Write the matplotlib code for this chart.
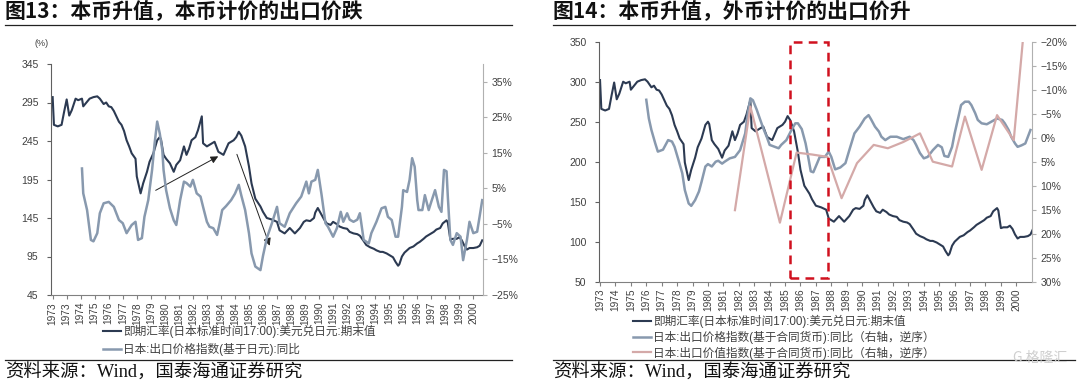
import matplotlib
matplotlib.use('Agg')

import matplotlib.pyplot as plt
from matplotlib.patches import Rectangle

plt.rcParams['font.family'] = ['Liberation Sans', 'Noto Sans CJK SC']
plt.rcParams['axes.unicode_minus'] = True

#========================================================
# data, x = months since Jan 1973
usd_month = [0, 1, 4, 7, 9, 11, 13, 15, 18, 20, 23, 24, 27, 29, 32, 35, 37, 40, 42, 44,
             46, 48, 50, 52, 54, 56, 58, 60, 62, 65, 66, 69, 71, 74, 76, 79, 82, 84, 85, 87,
             89, 92, 95, 97, 100, 103, 105, 107, 109, 112, 114, 117, 118, 121, 123, 127, 130, 134, 138, 142,
             144, 146, 148, 151, 154, 156, 159, 163, 165, 168, 172, 176, 178, 182, 186, 190, 194, 197, 199, 202,
             205, 206, 208, 211, 213, 215, 218, 220, 223, 225, 228, 231, 233, 236, 239, 241, 244, 246, 249, 252,
             254, 257, 259, 262, 265, 267, 269, 271, 272, 274, 276, 278, 280, 283, 286, 288, 291, 293, 296, 299,
             301, 304, 306, 309, 310, 312, 314, 317, 319, 321, 323, 325, 327, 330, 333, 335, 337]
usd_jpy = [302, 266, 264, 266, 283, 299, 278, 285, 300, 298, 300, 290, 296, 300, 302, 303, 300, 293, 295, 290,
           289, 284, 277, 270, 266, 258, 246, 238, 229, 222, 199, 177, 190, 205, 218, 229, 246, 250, 247, 227,
           222, 216, 205, 214, 220, 238, 227, 235, 246, 250, 259, 277, 242, 238, 240, 244, 231, 227, 242, 246,
           250, 257, 252, 238, 212, 190, 170, 160, 153, 145, 143, 140, 129, 125, 132, 125, 132, 140, 142, 141,
           145, 152, 158, 149, 143, 138, 136, 140, 137, 134, 132, 131, 127, 125, 124, 122, 115, 110, 107, 105,
           103, 101, 101, 99, 96, 94, 88, 83, 85, 95, 100, 103, 106, 108, 112, 114, 118, 121, 124, 127,
           130, 132, 138, 142, 139, 117, 118, 118, 120, 116, 109, 104, 106, 106, 107, 109, 116]

# export price index (yen based), yoy %
px_yen_month = [23, 24, 27, 30, 32, 35, 37, 40, 44, 48, 52, 55, 58, 62, 65, 67, 70, 72, 75, 78,
                80, 82, 84, 86, 87, 89, 92, 95, 97, 100, 103, 105, 108, 110, 113, 116, 118, 121, 123, 126,
                129, 131, 133, 136, 140, 143, 146, 148, 151, 154, 156, 159, 163, 165, 168, 172, 176, 178, 182, 186,
                191, 195, 199, 201, 203, 206, 208, 211, 214, 216, 220, 223, 226, 228, 231, 233, 236, 239, 241, 244,
                248, 250, 254, 258, 261, 263, 266, 269, 271, 274, 275, 278, 280, 282, 284, 286, 287, 290, 292, 295,
                297, 300, 303, 305, 307, 309, 310, 312, 314, 317, 320, 322, 325, 327, 330, 333, 335, 337]
px_yen_yoy = [10.6, 3.6, -1.1, -9.5, -9.9, -7.6, -2.0, 0.8, 1.2, -0.2, -3.9, -4.8, -7.6, -5.3, -4.4, -9.5, -9.0, -3.0, 1.7, 10.2,
              17.7, 23.8, 20.5, 15.8, 10.2, 4.5, -0.6, -4.0, -5.3, 1.7, 6.9, 6.5, 5.5, 7.4, 3.6, 2.7, -0.2, -4.4, -5.8, -6.2,
              -8.1, -4.8, -1.1, 0.0, 1.7, 3.5, 6.0, 3.0, -1.1, -7.6, -13.3, -17.0, -18.0, -14.0, -9.0, -4.8, -0.2, -4.8, -5.8, -2.0,
              0.8, 2.7, 6.9, 3.6, 6.9, 7.4, 10.2, 3.1, -4.8, -5.8, -8.6, -6.2, -1.6, -4.4, -2.0, -3.8, -4.4, -3.8, -2.0, -9.5,
              -10.5, -7.6, -4.4, -0.6, -0.2, -3.0, -3.9, -8.6, -8.6, -0.2, 4.5, 4.0, 7.4, 13.5, 11.1, 1.7, -1.1, -1.1, 3.1, -1.1,
              1.2, 4.5, -0.2, -1.6, 10.2, 9.8, 2.7, -9.5, -10.9, -7.6, -8.6, -15.2, -9.5, -4.4, -7.6, -7.2, -2.8, 1.7]

# export price index (contract currency), yoy %
px_cc_month = [36, 38, 40, 43, 45, 49, 53, 56, 58, 61, 64, 66, 69, 71, 74, 77, 79, 82, 84, 87,
               90, 92, 95, 97, 101, 105, 109, 113, 115, 117, 119, 122, 125, 127, 130, 132, 135, 139, 141, 145,
               149, 152, 154, 157, 160, 162, 164, 166, 169, 171, 175, 178, 180, 183, 187, 191, 194, 198, 202, 206,
               209, 211, 214, 217, 219, 222, 226, 231, 236, 241, 244, 246, 249, 252, 255, 259, 263, 266, 268, 271,
               274, 276, 279, 281, 284, 287, 289, 292, 294, 297, 301, 305, 309, 313, 315, 318, 320, 323, 325, 328,
               331, 333, 335]
px_cc_yoy = [-7.9, -4.0, -1.6, 1.2, 2.9, 2.5, 0.5, 0.8, 1.9, 4.6, 7.4, 10.9, 13.7, 14.2, 13.0, 11.2, 9.2, 6.0, 5.5, 6.0,
             5.0, 4.8, 5.4, 5.0, 4.3, 4.0, 2.6, -0.9, -5.1, -8.2, -7.8, -5.8, -3.5, -2.0, 0.0, 1.5, 1.8, 2.2, 1.5, 0.5,
             -1.6, -3.0, -3.0, -1.8, 1.2, 4.0, 7.0, 7.2, 5.3, 4.0, 4.0, 2.9, 4.0, 6.6, 6.2, 5.3, 2.6, -0.9, -2.3, -4.0,
             -4.7, -3.8, -2.3, -1.3, -0.2, 0.5, -0.2, -0.2, 0.3, -0.2, 0.5, 1.5, 3.2, 4.3, 4.0, 2.6, 1.5, 2.0, 3.8, 4.0,
             1.9, -0.9, -4.4, -6.8, -7.5, -7.5, -6.8, -5.1, -3.7, -3.0, -2.8, -3.4, -4.0, -3.7, -3.0, -1.6, -0.2, 1.2, 1.9, 1.6,
             1.2, -0.2, -1.6]

# export value index (contract currency), yoy %
val_cc_month = [105, 117, 140, 153, 165, 177, 188, 200, 213, 224, 236, 244, 249, 259, 274, 284, 297, 309, 322, 329]
val_cc_yoy = [15.1, -6.5, 17.7, 3.1, 3.5, 4.0, 12.6, 5.3, 1.5, 2.2, 0.9, -0.2, -0.9, 5.0, 6.0, -4.4, 6.7, -4.7, 0.5, -20.0]

left_xlabels = ['1973', '1973', '1974', '1975', '1976', '1977', '1978', '1979', '1980', '1981',
                '1982', '1983', '1984', '1984', '1985', '1986', '1987', '1988', '1989', '1990',
                '1991', '1992', '1993', '1994', '1995', '1995', '1996', '1997', '1998', '1999', '2000']
right_xlabels = [str(y) for y in range(1973, 2001)]

legend_left = ['即期汇率(日本标准时间17:00):美元兑日元:期末值',
               '日本:出口价格指数(基于日元):同比']
legend_right = ['即期汇率(日本标准时间17:00):美元兑日元:期末值',
                '日本:出口价格指数(基于合同货币):同比（右轴，逆序）',
                '日本:出口价值指数(基于合同货币):同比（右轴，逆序）']
#========================================================

DARK = '#2c3a52'
BLUE = '#8899ae'
PINK = '#d4a9a8'
TXT = '#404040'
W, H = 1080., 381.

fig = plt.figure(figsize=(10.8, 3.81), dpi=100)


def style(ax, axr):
    for a in (ax, axr):
        a.spines['top'].set_visible(False)
    ax.spines['left'].set_color('#606060')
    ax.spines['bottom'].set_color('#808080')
    axr.spines['right'].set_color('#b0b0b0')
    axr.spines['left'].set_visible(False)
    axr.spines['bottom'].set_visible(False)
    ax.spines['right'].set_visible(False)
    ax.tick_params(axis='y', direction='out', length=3, pad=6, labelsize=7.5,
                   colors='#606060', labelcolor=TXT)
    ax.tick_params(axis='x', direction='out', length=3, pad=2, labelsize=7.3,
                   colors='#808080', labelcolor=TXT, labelrotation=90)
    axr.tick_params(axis='y', direction='out', length=3, pad=3, labelsize=7.5,
                    colors='#b0b0b0', labelcolor=TXT)


def pct(v):
    return ('−%d%%' % -v) if v < 0 else '%d%%' % v


# ---------------- left chart ----------------
ax1 = fig.add_axes([51 / W, 1 - 295 / H, 432 / W, 231 / H])
ax1.plot(usd_month, usd_jpy, color=DARK, lw=1.5)
ax1.set_ylim(45, 345)
ax1.set_yticks(range(45, 346, 50))
ax1.set_xlim(-1.3, 337.6)
ax1.set_xticks([11 * k for k in range(len(left_xlabels))])
ax1.set_xticklabels(left_xlabels)

ax1r = ax1.twinx()
ax1r.plot(px_yen_month, px_yen_yoy, color=BLUE, lw=1.8)
ax1r.set_ylim(-25, 40)
rt = list(range(-25, 36, 10))
ax1r.set_yticks(rt)
ax1r.set_yticklabels([pct(v) for v in rt])
style(ax1, ax1r)

arrow = dict(arrowstyle='-|>', color='#222222', lw=0.7, mutation_scale=11)
ax1.annotate('', xy=(131.8, 226.8), xytext=(78.9, 179.2), arrowprops=arrow)
ax1.annotate('', xy=(171, 105.6), xytext=(143.8, 231.1), arrowprops=arrow)

fig.text(42 / W, 1 - 44 / H, '(%)', fontsize=6.5, color=TXT, ha='center', va='center')

h = [ax1.lines[0], ax1r.lines[0]]
fig.legend(h, legend_left, loc='upper left', bbox_to_anchor=(103 / W, 1 - 325 / H),
           frameon=False, fontsize=8.4, borderpad=0, borderaxespad=0, handlelength=1.5,
           handletextpad=0.2, labelspacing=0.4, labelcolor=TXT)

# ---------------- right chart ----------------
ax2 = fig.add_axes([599 / W, 1 - 281.7 / H, 433 / W, 240 / H])
ax2.plot(usd_month, usd_jpy, color=DARK, lw=1.5)
ax2.set_ylim(50, 350)
ax2.set_yticks(range(50, 351, 50))
ax2.set_xlim(-0.8, 336.2)
ax2.set_xticks([12 * k for k in range(len(right_xlabels))])
ax2.set_xticklabels(right_xlabels)

ax2r = ax2.twinx()
ax2r.plot(px_cc_month, px_cc_yoy, color=BLUE, lw=1.8)
ax2r.plot(val_cc_month, val_cc_yoy, color=PINK, lw=1.6)
ax2r.set_ylim(30, -20)
rt2 = list(range(-20, 31, 5))
ax2r.set_yticks(rt2)
ax2r.set_yticklabels([pct(v) for v in rt2])
style(ax2, ax2r)

ax2r.add_patch(Rectangle((147.8, 29.3), 29.4, -49.3, fill=False, edgecolor='#d0111f',
                         lw=1.8, ls=(0, (3.5, 2.5)), clip_on=False, zorder=5))

h2 = [ax2.lines[0], ax2r.lines[0], ax2r.lines[1]]
fig.legend(h2, legend_right, loc='upper left', bbox_to_anchor=(633 / W, 1 - 315 / H),
           frameon=False, fontsize=8.4, borderpad=0, borderaxespad=0, handlelength=1.5,
           handletextpad=0.2, labelspacing=0.22, labelcolor=TXT)

# ---------------- titles, rules, source ----------------
fig.text(5 / W, 1 - 12 / H, '图13：本币升值，本币计价的出口价跌', fontsize=15,
         fontweight='bold', color='#111111', va='center', family=['Noto Sans CJK SC'])
fig.text(553 / W, 1 - 12 / H, '图14：本币升值，外币计价的出口价升', fontsize=15,
         fontweight='bold', color='#111111', va='center', family=['Noto Sans CJK SC'])
for x0, x1 in ((5, 512), (553, 1075)):
    for yy in (25, 359.5):
        fig.add_artist(plt.Line2D([x0 / W, x1 / W], [1 - yy / H, 1 - yy / H],
                                  color='#222222', lw=0.9))
    fig.text(x0 / W, 1 - 373 / H, '资料来源：Wind，国泰海通证券研究', fontsize=13.2,
             color='#111111', va='center', family=['Liberation Serif', 'Noto Sans CJK SC'])

fig.text(1040 / W, 1 - 358 / H, 'G 格隆汇', fontsize=10, color='#cfcfcf', ha='center',
         va='center', family=['Noto Sans CJK SC'])

fig.savefig('out.png', dpi=100)
